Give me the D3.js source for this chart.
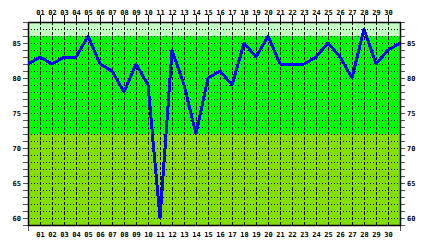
<!DOCTYPE html>
<html>
<head>
<meta charset="utf-8">
<script src="https://cdn.jsdelivr.net/npm/d3@7"></script>
<style>
  body { margin: 0; background: #fff; }
  text { font-family: "DejaVu Sans Mono", monospace; font-weight: bold; font-size: 7px; fill: #000; }
</style>
</head>
<body>
<script>
// day labels along top and bottom
var days = d3.range(1, 31).map(function(d) { return d < 10 ? "0" + d : "" + d; });
// readings, one per slot 0..31 (slot 0 and 31 sit on the frame edges)
var readings = [82, 83, 82, 83, 83, 86, 82, 81, 78, 82, 79, 60, 84, 79, 72, 80,
                81, 79, 85, 83, 86, 82, 82, 82, 83, 85, 83, 80, 87, 82, 84, 85];
// value bands (low, high)
var bandLimits = [[86, 88], [72, 86], [59, 72]];
var bandColors = ["#c0ffc0", "#00ff00", "#80e000"];
var yTicks = [60, 65, 70, 75, 80, 85];

var W = 429, H = 248;
var pL = 28, pR = 400, pT = 22, pB = 225; // plot box

var svg = d3.select("body").append("svg").attr("width", W).attr("height", H);
svg.append("rect").attr("width", W).attr("height", H).attr("fill", "#fff");

var x = d3.scaleLinear().domain([0, 31]).range([pL, pR]);
var y = d3.scaleLinear().domain([59, 88]).range([pB, pT]);

function px(v) { return Math.round(v) + 0.5; }

// background bands
svg.selectAll("rect.band").data(bandLimits).enter().append("rect")
  .attr("class", "band")
  .attr("x", pL).attr("width", pR - pL)
  .attr("y", function(d) { return y(d[1]); })
  .attr("height", function(d) { return y(d[0]) - y(d[1]); })
  .attr("fill", function(d, i) { return bandColors[i]; });

var units = d3.range(60, 88);

// horizontal dotted grid, one per unit
svg.selectAll("line.hg").data(units).enter().append("line")
  .attr("x1", pL).attr("x2", pR)
  .attr("y1", function(d) { return px(y(d)); })
  .attr("y2", function(d) { return px(y(d)); })
  .attr("stroke", "#000").attr("stroke-dasharray", "1,2");

// vertical dashed grid at each day
svg.selectAll("line.vg").data(days).enter().append("line")
  .attr("x1", function(d, i) { return px(x(i + 1)); })
  .attr("x2", function(d, i) { return px(x(i + 1)); })
  .attr("y1", pT).attr("y2", pB)
  .attr("stroke", "#000").attr("stroke-dasharray", "3,2");

// top ticks
svg.selectAll("line.tt").data(days).enter().append("line")
  .attr("x1", function(d, i) { return px(x(i + 1)); })
  .attr("x2", function(d, i) { return px(x(i + 1)); })
  .attr("y1", pT - 7).attr("y2", pT)
  .attr("stroke", "#000");

// side ticks
var yAll = d3.range(59, 89);
svg.selectAll("line.lt").data(yAll).enter().append("line")
  .attr("x1", pL - 5).attr("x2", pL)
  .attr("y1", function(d) { return px(y(d)); })
  .attr("y2", function(d) { return px(y(d)); })
  .attr("stroke", "#555");
svg.selectAll("line.rt").data(yAll).enter().append("line")
  .attr("x1", pR).attr("x2", pR + 5)
  .attr("y1", function(d) { return px(y(d)); })
  .attr("y2", function(d) { return px(y(d)); })
  .attr("stroke", "#555");

// bottom edge ticks
[0, 31].forEach(function(v) {
  svg.append("line")
    .attr("x1", px(x(v))).attr("x2", px(x(v)))
    .attr("y1", pB).attr("y2", pB + 6)
    .attr("stroke", "#555");
});

// frame
svg.append("rect")
  .attr("x", pL + 0.5).attr("y", pT + 0.5)
  .attr("width", pR - pL).attr("height", pB - pT)
  .attr("fill", "none").attr("stroke", "#000").attr("stroke-width", 1.5);

// day labels
svg.selectAll("text.top").data(days).enter().append("text")
  .attr("x", function(d, i) { return x(i + 1) + 0.5; })
  .attr("y", 15).attr("text-anchor", "middle").text(function(d) { return d; });
svg.selectAll("text.bot").data(days).enter().append("text")
  .attr("x", function(d, i) { return x(i + 1) + 0.5; })
  .attr("y", 237).attr("text-anchor", "middle").text(function(d) { return d; });

// value labels
svg.selectAll("text.yl").data(yTicks).enter().append("text")
  .attr("x", 21).attr("y", function(d) { return y(d) + 2.5; })
  .attr("text-anchor", "end").text(function(d) { return d; });
svg.selectAll("text.yr").data(yTicks).enter().append("text")
  .attr("x", 407).attr("y", function(d) { return y(d) + 2.5; })
  .attr("text-anchor", "start").text(function(d) { return d; });

// the reading line
var line = d3.line()
  .x(function(d, i) { return x(i); })
  .y(function(d) { return y(d); });
svg.append("path").datum(readings)
  .attr("d", line)
  .attr("fill", "none").attr("stroke", "#0000ff").attr("stroke-width", 3)
  .attr("stroke-linejoin", "round")
  .attr("shape-rendering", "crispEdges");
</script>
</body>
</html>
